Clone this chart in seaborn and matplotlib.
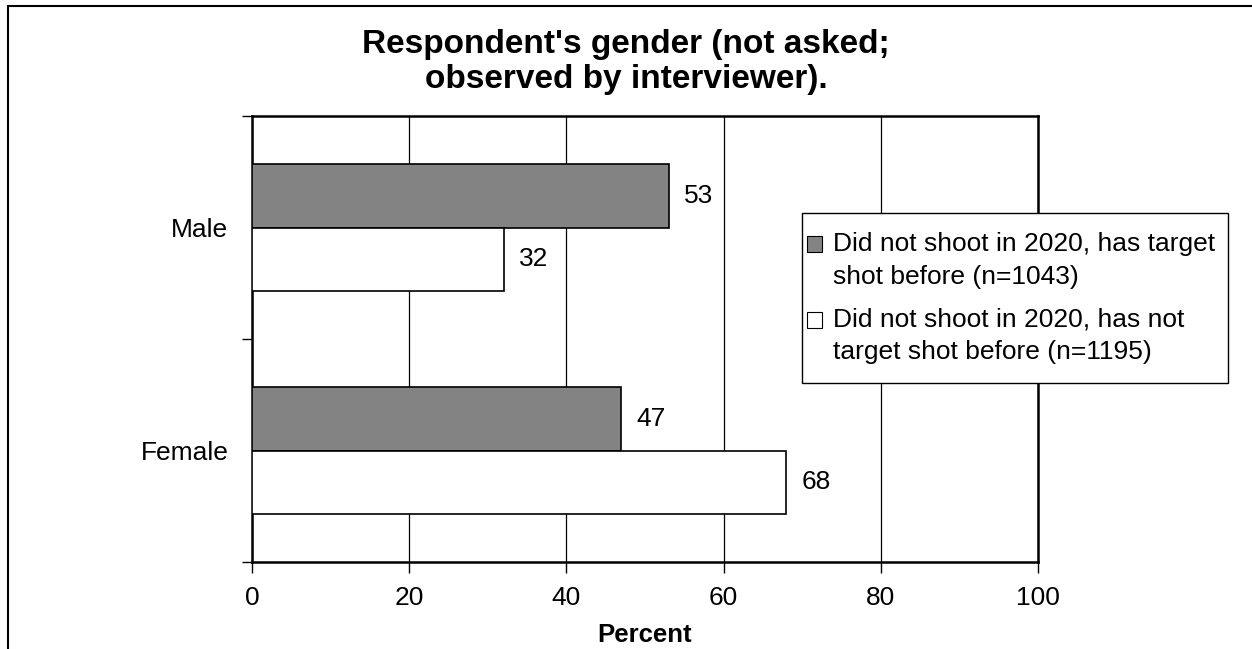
import seaborn as sns
import matplotlib.pyplot as plt
import pandas as pd
from matplotlib.patches import Patch, Rectangle
from matplotlib.lines import Line2D
from matplotlib.legend_handler import HandlerPatch

# Data
genders = ["Male", "Female"]
groups = [
    "Did not shoot in 2020, has target\nshot before (n=1043)",
    "Did not shoot in 2020, has not\ntarget shot before (n=1195)",
]
target_shot_before = [53, 47]
never_target_shot = [32, 68]

df = pd.DataFrame({
    "Gender": genders * 2,
    "Group": [groups[0]] * 2 + [groups[1]] * 2,
    "Percent": target_shot_before + never_target_shot,
})

colors = ["#838383", "#ffffff"]

sns.set_style("white")
plt.rcParams['font.family'] = ['Liberation Sans', 'DejaVu Sans']
plt.rcParams['text.color'] = 'black'
plt.rcParams['axes.labelcolor'] = 'black'
plt.rcParams['xtick.color'] = 'black'
plt.rcParams['ytick.color'] = 'black'

W, H = 1252, 649
fig = plt.figure(figsize=(W / 100, H / 100), dpi=100)
ax = fig.add_axes([252 / W, 1 - 562 / H, (1038 - 252) / W, (562 - 116) / H])

sns.barplot(data=df, y="Gender", x="Percent", hue="Group", hue_order=groups,
            order=genders, palette=colors, orient="h", width=0.57,
            edgecolor="black", linewidth=1.2, legend=False, ax=ax, zorder=3)

for cont in ax.containers:
    ax.bar_label(cont, fmt="%g", padding=11, fontsize=19)

# Axes styling
ax.set_xlim(0, 100)
ax.set_ylim(1.5, -0.5)
ax.set_xticks(range(0, 101, 20))
ax.xaxis.grid(True, color="black", linewidth=0.9)
ax.set_axisbelow(True)
for s in ax.spines.values():
    s.set_visible(True)
    s.set_color("black")
    s.set_linewidth(1.8)

ax.tick_params(axis="x", direction="out", length=8, width=1, labelsize=19, pad=9, bottom=True)
ax.tick_params(axis="y", which="major", length=0, labelsize=19, pad=17)
ax.set_yticks([-0.5, 0.5, 1.5], minor=True)
ax.tick_params(axis="y", which="minor", direction="out", length=7, width=1, left=True)

ax.set_xlabel("Percent", fontsize=18.5, fontweight="bold", labelpad=10)
ax.set_ylabel("")


# Legend: square sits beside the first line of each two-line label
def top_square(legend, orig_handle, xdescent, ydescent, width, height, fontsize):
    return Rectangle((-xdescent, -ydescent + 0.62 * fontsize), width, height)


fig.add_artist(Rectangle((802 / W, 1 - 383 / H), (1228 - 802) / W, (383 - 213) / H,
                         transform=fig.transFigure, facecolor="white", edgecolor="black",
                         linewidth=1, zorder=4))

handles = [Patch(facecolor=c, edgecolor="black", linewidth=0.8) for c in colors]
leg = fig.legend(handles, groups, loc="upper left",
                 bbox_to_anchor=(807 / W, 1 - 232 / H), bbox_transform=fig.transFigure,
                 borderaxespad=0, borderpad=0, fontsize=19, frameon=False,
                 handlelength=0.55, handleheight=0.55, handletextpad=0.45,
                 labelspacing=0.72,
                 handler_map={Patch: HandlerPatch(patch_func=top_square)})
for t in leg.get_texts():
    t.set_linespacing(1.45)
leg.set_zorder(5)

# Title
fig.text(0.5, 1 - 62 / H, "Respondent's gender (not asked;\nobserved by interviewer).",
         ha="center", va="center", fontsize=24, fontweight="bold", linespacing=1.18)

# Outer frame (top and left edges)
fig.add_artist(Line2D([8 / W, 8 / W], [0, 1 - 6 / H], color="black", linewidth=1.5,
                      transform=fig.transFigure))
fig.add_artist(Line2D([8 / W, 1], [1 - 6 / H, 1 - 6 / H], color="black", linewidth=1.5,
                      transform=fig.transFigure))

fig.savefig("out.png", dpi=100)
